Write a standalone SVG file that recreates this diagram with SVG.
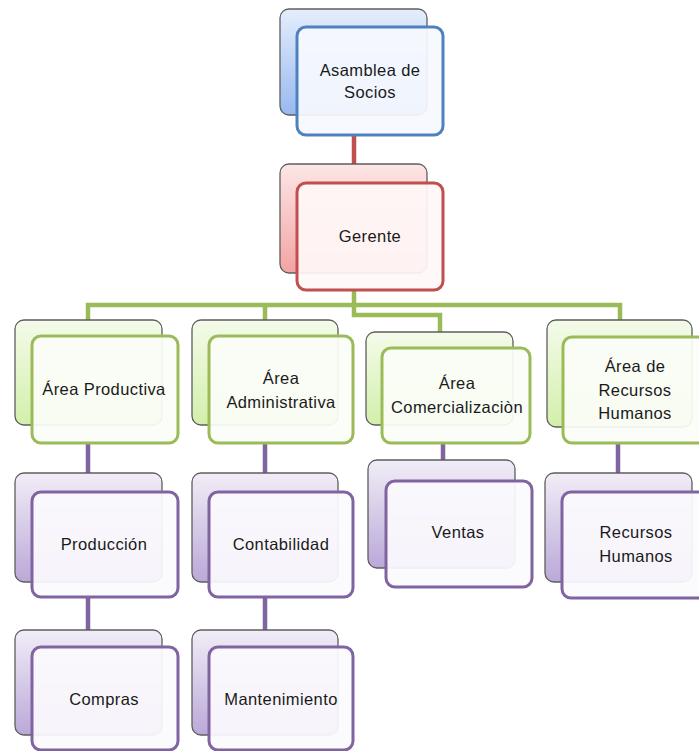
<svg xmlns="http://www.w3.org/2000/svg" width="699" height="751" viewBox="0 0 699 751">
<defs>
<linearGradient id="gB" x1="0" y1="0" x2="0" y2="1"><stop offset="0" stop-color="#e4edfc"/><stop offset="1" stop-color="#98b9ef"/></linearGradient>
<linearGradient id="gR" x1="0" y1="0" x2="0" y2="1"><stop offset="0" stop-color="#fde6e6"/><stop offset="1" stop-color="#f3a3a3"/></linearGradient>
<linearGradient id="gG" x1="0" y1="0" x2="0" y2="1"><stop offset="0" stop-color="#f4fbea"/><stop offset="1" stop-color="#d3efab"/></linearGradient>
<linearGradient id="gP" x1="0" y1="0" x2="0" y2="1"><stop offset="0" stop-color="#f1edf7"/><stop offset="1" stop-color="#bba8d8"/></linearGradient>
</defs>
<style>
.back{stroke:#5e5e5e;stroke-width:1.3}
.front{stroke-width:3;fill:#fafbfd;fill-opacity:0.93}
.b .back{fill:url(#gB)} .b .front{stroke:#4f81bd;fill:#f6f9fe}
.r .back{fill:url(#gR)} .r .front{stroke:#c0504d;fill:#fff8f8}
.g .back{fill:url(#gG)} .g .front{stroke:#9bbb59;fill:#fbfdf7}
.p .back{fill:url(#gP)} .p .front{stroke:#8064a2;fill:#fbfafd}
text{font-family:"Liberation Sans",Arial,sans-serif;font-size:16.5px;letter-spacing:0.4px;fill:#1a1a1a;text-anchor:middle}
.c{fill:none;stroke-width:4.5}
</style>
<g id="connectors">
<path class="c" stroke="#c0504d" d="M354,135 V164"/>
<path class="c" stroke="#9bbb59" d="M354,290 V315 H440 V332 M88,320 V305 H620 V320 M265,305 V320"/>
<path class="c" stroke="#8064a2" d="M88,443 V473 M88,597 V630 M265,443 V473 M265,597 V630 M443,443 V460 M618,443 V473"/>
</g>
<g id="asamblea" class="b">
<rect class="back" x="280" y="9" width="147" height="106" rx="9"/>
<rect class="front" x="297" y="27" width="146" height="108" rx="9"/>
<text x="370" y="76">Asamblea de</text><text x="370" y="98">Socios</text>
</g>
<g id="gerente" class="r">
<rect class="back" x="280" y="164" width="147" height="109" rx="9"/>
<rect class="front" x="297" y="183" width="146" height="107" rx="9"/>
<text x="370" y="242">Gerente</text>
</g>
<g id="area-productiva" class="g">
<rect class="back" x="15" y="320" width="147" height="105" rx="9"/>
<rect class="front" x="32" y="336" width="146" height="107" rx="9"/>
<text x="104" y="395">Área Productiva</text>
</g>
<g id="area-administrativa" class="g">
<rect class="back" x="192" y="320" width="146" height="105" rx="9"/>
<rect class="front" x="209" y="336" width="144" height="107" rx="9"/>
<text x="281" y="384">Área</text><text x="281" y="408">Administrativa</text>
</g>
<g id="area-comercializacion" class="g">
<rect class="back" x="366" y="332" width="147" height="93" rx="9"/>
<rect class="front" x="382" y="348" width="148" height="95" rx="9"/>
<text x="457" y="389">Área</text><text x="457" y="413">Comercializaciòn</text>
</g>
<g id="area-rrhh" class="g">
<rect class="back" x="547" y="320" width="145" height="107" rx="9"/>
<rect class="front" x="563" y="337" width="146" height="106" rx="9"/>
<text x="635" y="372">Área de</text><text x="635" y="396">Recursos</text><text x="635" y="419">Humanos</text>
</g>
<g id="produccion" class="p">
<rect class="back" x="15" y="473" width="147" height="109" rx="9"/>
<rect class="front" x="32" y="492" width="146" height="105" rx="9"/>
<text x="104" y="550">Producción</text>
</g>
<g id="contabilidad" class="p">
<rect class="back" x="192" y="473" width="146" height="109" rx="9"/>
<rect class="front" x="209" y="492" width="144" height="105" rx="9"/>
<text x="281" y="550">Contabilidad</text>
</g>
<g id="ventas" class="p">
<rect class="back" x="368" y="460" width="147" height="108" rx="9"/>
<rect class="front" x="386" y="481" width="146" height="106" rx="9"/>
<text x="458" y="538">Ventas</text>
</g>
<g id="recursos-humanos" class="p">
<rect class="back" x="545" y="473" width="147" height="109" rx="9"/>
<rect class="front" x="562" y="492" width="147" height="106" rx="9"/>
<text x="636" y="538">Recursos</text><text x="636" y="562">Humanos</text>
</g>
<g id="compras" class="p">
<rect class="back" x="15" y="630" width="147" height="105" rx="9"/>
<rect class="front" x="32" y="647" width="146" height="103" rx="9"/>
<text x="104" y="705">Compras</text>
</g>
<g id="mantenimiento" class="p">
<rect class="back" x="192" y="630" width="146" height="105" rx="9"/>
<rect class="front" x="209" y="647" width="144" height="103" rx="9"/>
<text x="281" y="705">Mantenimiento</text>
</g>
</svg>
